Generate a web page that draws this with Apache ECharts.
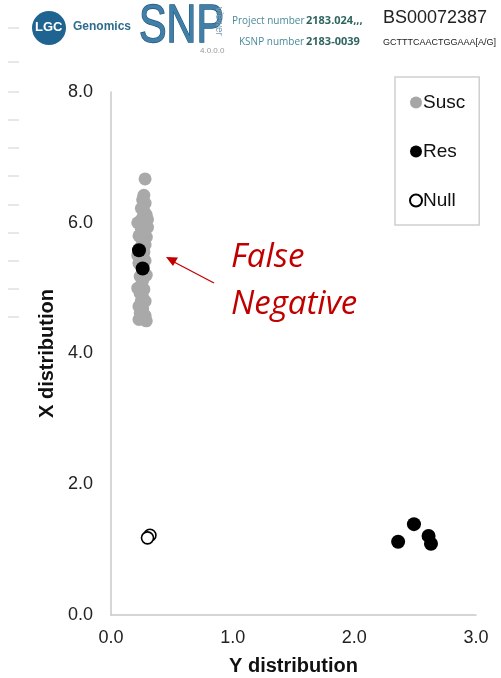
<!DOCTYPE html>
<html>
<head>
<meta charset="utf-8">
<script src="https://cdn.jsdelivr.net/npm/echarts@6/dist/echarts.min.js"></script>
<style>
html,body{margin:0;padding:0;background:#fff;}
#c{width:501px;height:678px;}
</style>
</head>
<body>
<div id="c"></div>
<script>
// ---- Data ----
const xTicks = ['0.0','1.0','2.0','3.0'];
const yTicks = ['0.0','2.0','4.0','6.0','8.0'];
const seriesNames = ['Susc','Res','Null'];
const suscPoints = [
  [0.28,6.67],[0.27,6.42],[0.26,6.35],[0.28,6.30],[0.25,6.22],[0.27,6.18],[0.29,6.12],
  [0.26,6.08],[0.24,6.02],[0.28,5.98],[0.30,5.93],[0.25,5.90],[0.27,5.85],[0.23,5.80],
  [0.29,5.78],[0.26,5.72],[0.28,5.66],[0.24,5.62],[0.27,5.55],[0.25,5.48],[0.28,5.42],
  [0.23,5.38],[0.26,5.32],[0.27,5.25],[0.24,5.18],[0.26,5.12],[0.25,5.05],[0.27,4.98],
  [0.24,4.92],[0.26,4.86],[0.25,4.80],[0.23,4.72],[0.26,4.68],[0.24,4.62],[0.28,4.58],
  [0.23,4.52],[0.29,4.50],[0.25,4.55],[0.22,6.00],[0.30,6.05],[0.22,5.50],[0.29,5.20],
  [0.22,5.00],[0.28,4.80]
];
const resPoints = [
  [0.23,5.58],[0.26,5.30],
  [2.36,1.12],[2.49,1.39],[2.61,1.21],[2.63,1.09]
];
const nullPoints = [[0.32,1.22],[0.30,1.18]];
const annotationLines = ['False','Negative'];

// ---- Chart ----
const chart = echarts.init(document.getElementById('c'));
const font = '"Liberation Sans", Arial, sans-serif';
const hfont = '"Open Sans", "DejaVu Sans", sans-serif';
const dashYs = [28,62,92,120,148,176,205,233,261,289,317];
const dashes = dashYs.map(y => ({
  type:'line', shape:{x1:8,y1:y,x2:19,y2:y}, style:{stroke:'#d0d0d0',lineWidth:1}
}));

chart.setOption({
  backgroundColor:'#fff',
  animation:false,
  grid:{left:111,right:25,top:92,bottom:63,containLabel:false,outerBoundsMode:'none'},
  xAxis:{
    type:'value',min:0,max:3,interval:1,
    name:'Y distribution',nameLocation:'middle',nameGap:41,
    nameTextStyle:{fontFamily:font,fontWeight:'bold',fontSize:20,color:'#111'},
    axisLine:{show:true,lineStyle:{color:'#c8c8c8',width:1.5}},
    axisTick:{show:false},splitLine:{show:false},
    axisLabel:{fontFamily:font,fontSize:18,color:'#222',margin:14,
      formatter:(v)=>xTicks[Math.round(v)]}
  },
  yAxis:{
    type:'value',min:0,max:8,interval:2,
    name:'X distribution',nameLocation:'middle',nameGap:53,
    nameTextStyle:{fontFamily:font,fontWeight:'bold',fontSize:20,color:'#111'},
    axisLine:{show:true,lineStyle:{color:'#c8c8c8',width:1.5}},
    axisTick:{show:false},splitLine:{show:false},
    axisLabel:{fontFamily:font,fontSize:18,color:'#222',margin:18,
      formatter:(v)=>yTicks[Math.round(v/2)]}
  },
  legend:{
    orient:'vertical',left:395,top:77,
    data:[
      {name:seriesNames[0],itemStyle:{color:'#a6a6a6'}},
      {name:seriesNames[1]},
      {name:seriesNames[2]}
    ],
    itemWidth:12,itemHeight:12,itemGap:30,
    padding:[16,14,15,14],
    borderColor:'#cfcfcf',borderWidth:1.5,
    textStyle:{fontFamily:font,fontSize:19,color:'#111',padding:[0,0,0,-4]},
    icon:'circle'
  },
  series:[
    {name:seriesNames[0],type:'scatter',data:suscPoints,symbolSize:13,
      itemStyle:{color:'#a9a9a9',opacity:1}},
    {name:seriesNames[1],type:'scatter',data:resPoints,symbolSize:14,
      itemStyle:{color:'#000',opacity:1}},
    {name:seriesNames[2],type:'scatter',data:nullPoints,symbolSize:12,
      itemStyle:{color:'#fff',borderColor:'#000',borderWidth:1.6,opacity:1}}
  ],
  graphic:[
    ...dashes,
    // header
    {type:'circle',shape:{cx:49,cy:28,r:17},style:{fill:'#1f6390'}},
    {type:'text',left:35,top:21,style:{text:'LGC',fill:'#fff',font:'bold 13px "Liberation Sans", Arial'}},
    {type:'text',left:73,top:21,style:{text:'Genomics',fill:'#2f6d8e',font:'bold 12px "Liberation Sans", Arial'}},
    {type:'text',x:139,y:1,scaleX:0.78,style:{text:'SNP',fill:'#3f7fa8',stroke:'#24557a',lineWidth:1.4,font:'53px "Liberation Sans", Arial'}},
    {type:'text',x:224,y:7,rotation:-Math.PI/2,style:{text:'viewer',fill:'#7a9ab0',font:'10px "Liberation Sans", Arial'}},
    {type:'text',left:200,top:47,style:{text:'4.0.0.0',fill:'#999',font:'8px "Liberation Sans", Arial'}},
    {type:'text',left:232,top:16,style:{text:'Project number',fill:'#4a8a98',font:'10px '+hfont}},
    {type:'text',left:306,top:15,style:{text:'2183.024,,,',fill:'#2f6560',font:'bold 11px '+hfont}},
    {type:'text',left:239,top:37,style:{text:'KSNP number',fill:'#4a8a98',font:'10px '+hfont}},
    {type:'text',left:306,top:36,style:{text:'2183-0039',fill:'#2f6560',font:'bold 11px '+hfont}},
    {type:'text',left:383,top:9,style:{text:'BS00072387',fill:'#222',font:'18px "Liberation Sans", Arial'}},
    {type:'text',left:383,top:38,style:{text:'GCTTTCAACTGGAAA[A/G]',fill:'#222',font:'9px "Liberation Sans", Arial'}},
    // annotation
    {type:'text',left:231,top:241,style:{text:annotationLines[0],fill:'#c00000',font:'italic 33px "Open Sans", Lato, sans-serif'}},
    {type:'text',left:231,top:288,style:{text:annotationLines[1],fill:'#c00000',font:'italic 33px "Open Sans", Lato, sans-serif'}},
    {type:'line',shape:{x1:214,y1:283,x2:174,y2:262},style:{stroke:'#c00000',lineWidth:1.3}},
    {type:'polygon',shape:{points:[[166,257],[178,257.5],[173,266]]},style:{fill:'#c00000'}}
  ]
});
</script>
</body>
</html>
